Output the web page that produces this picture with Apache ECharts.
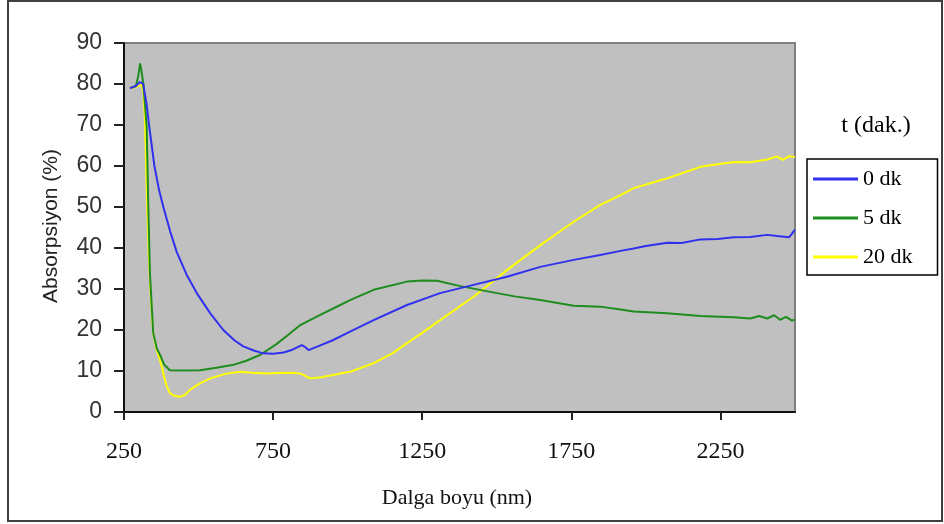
<!DOCTYPE html>
<html>
<head>
<meta charset="utf-8">
<script src="https://cdn.jsdelivr.net/npm/echarts@6/dist/echarts.min.js"></script>
<style>html,body{margin:0;padding:0;background:#fff}#c{width:944px;height:524px}</style>
</head>
<body>
<div id="c"></div>
<script>
// ---- data ----
const seriesNames = ['0 dk', '5 dk', '20 dk'];
const xTicks = [250, 750, 1250, 1750, 2250];

const wl0 = [270,290,304,314,326,334,352,368,382,405,427,460,494,540,583,620,650,685,717,750,785,815,846,858,869,900,950,1008,1087,1199,1310,1422,1534,1646,1758,1847,1915,1959,2000,2072,2120,2183,2240,2295,2350,2407,2440,2480,2490,2500];
const val0 = [79,79.5,80.5,80,75,70,60,54,50,44,39,33.5,29,24,20,17.5,16,15,14.3,14.2,14.5,15.2,16.3,15.8,15.1,16,17.5,19.6,22.4,26.1,29,31,33,35.4,37.1,38.3,39.3,39.9,40.5,41.3,41.2,42.1,42.2,42.6,42.7,43.2,42.9,42.6,43.5,44.5];

const wl5 = [270,290,298,304,309,315,326,331,337,348,360,371,385,404,450,505,560,617,660,706,760,800,841,908,975,1008,1087,1199,1250,1300,1378,1478,1560,1646,1758,1847,1915,1959,2072,2183,2295,2350,2380,2407,2430,2450,2470,2490,2500];
const val5 = [79,79.5,82,85,83,80,69.6,51.7,33.8,19.3,15.5,13.9,11.5,10.2,10.1,10.2,10.8,11.5,12.5,13.9,16.5,18.8,21.2,23.7,26.1,27.3,29.8,31.8,32.1,32,30.7,29.3,28.2,27.3,25.9,25.7,25,24.5,24.1,23.4,23.1,22.8,23.4,22.8,23.6,22.5,23.2,22.3,22.5];

const wl20 = [270,290,309,315,320,326,333,340,348,358,365,375,382,392,404,420,438,455,471,505,539,590,639,680,729,770,818,845,874,910,952,975,1008,1087,1150,1199,1250,1310,1422,1534,1646,1758,1847,1915,1959,2072,2183,2240,2295,2350,2407,2440,2460,2480,2500];
const val20 = [79,79.3,79.8,78,72,55,38,28,19.3,15.5,14,11.5,9.4,6.5,4.6,3.9,3.7,4.2,5.4,7,8.2,9.3,9.8,9.6,9.4,9.5,9.6,9.3,8.2,8.5,9,9.4,9.8,11.9,14.3,16.8,19.3,22.4,28.1,34.6,40.7,46.4,50.5,52.9,54.6,57,59.8,60.4,61,60.9,61.6,62.3,61.5,62.4,62.2];

const colors = ['#3030ee', '#1e8c1e', '#ffff00'];
const pairs = (xs, ys) => xs.map((x, i) => [x, ys[i]]);
const allData = [pairs(wl0, val0), pairs(wl5, val5), pairs(wl20, val20)];

const chart = echarts.init(document.getElementById('c'), null, {renderer: 'canvas'});
const serif = "'Liberation Serif', 'DejaVu Serif', serif";
const sans = "'Liberation Sans', Arial, sans-serif";

chart.setOption({
  animation: false,
  backgroundColor: '#fff',
  grid: {
    left: 124, top: 43, width: 671, height: 369,
    outerBoundsMode: 'none',
    show: true, backgroundColor: '#c0c0c0', borderColor: '#808080', borderWidth: 2
  },
  xAxis: {
    type: 'value', min: 250, max: 2500,
    axisLine: {show: true, lineStyle: {color: '#111', width: 2}},
    axisTick: {show: true, customValues: xTicks, length: 8, lineStyle: {color: '#222', width: 2}},
    axisLabel: {customValues: xTicks, formatter: v => String(v), fontFamily: serif, fontSize: 24, color: '#111', margin: 28},
    splitLine: {show: false}
  },
  yAxis: {
    type: 'value', min: 0, max: 90, interval: 10,
    axisLine: {show: true, lineStyle: {color: '#111', width: 2}},
    axisTick: {show: true, length: 10, lineStyle: {color: '#222', width: 2}},
    axisLabel: {fontFamily: sans, fontSize: 23, color: '#333', margin: 22},
    splitLine: {show: false}
  },
  legend: {
    data: seriesNames,
    orient: 'vertical', left: 807, top: 159,
    padding: [9, 25, 7, 6], itemGap: 17,
    icon: 'rect', itemWidth: 45, itemHeight: 3,
    backgroundColor: '#fff', borderColor: '#000', borderWidth: 1.5,
    textStyle: {fontFamily: serif, fontSize: 22, lineHeight: 22, color: '#000'}
  },
  graphic: [
    {type: 'rect', silent: true, z: 100,
     shape: {x: 8, y: 1, width: 934, height: 520},
     style: {fill: 'none', stroke: '#404040', lineWidth: 2}},
    {type: 'text', x: 876, y: 126, silent: true,
     style: {text: 't (dak.)', fontFamily: serif, fontSize: 24, fill: '#000', align: 'center', verticalAlign: 'middle'}},
    {type: 'text', x: 457, y: 498, silent: true,
     style: {text: 'Dalga boyu (nm)', fontFamily: serif, fontSize: 22, fill: '#111', align: 'center', verticalAlign: 'middle'}},
    {type: 'text', x: 51, y: 226, rotation: Math.PI / 2, silent: true,
     style: {text: 'Absorpsiyon (%)', fontFamily: sans, fontSize: 21, fill: '#222', align: 'center', verticalAlign: 'middle'}}
  ],
  series: seriesNames.map((n, i) => ({
    name: n, type: 'line', data: allData[i],
    showSymbol: false, symbol: 'none',
    lineStyle: {color: colors[i], width: 2},
    itemStyle: {color: colors[i]},
    z: 3 - i
  }))
});
</script>
</body>
</html>
